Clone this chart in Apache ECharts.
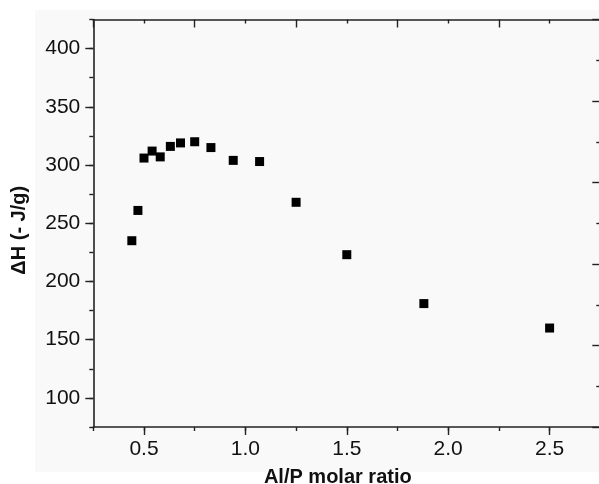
<!DOCTYPE html>
<html>
<head>
<meta charset="utf-8">
<script src="https://cdn.jsdelivr.net/npm/echarts@6/dist/echarts.min.js"></script>
<style>
  html, body { margin: 0; padding: 0; background: #ffffff; }
  #wrap { position: relative; width: 599px; height: 484px; overflow: hidden; }
  #bg { position: absolute; left: 35px; top: 10px; width: 564px; height: 462px; background: #f9f9f9; }
  #chart { position: absolute; left: 0; top: 0; width: 599px; height: 484px; }
</style>
</head>
<body>
<div id="wrap"><div id="bg"></div><div id="chart"></div></div>
<script>
// Data
const alpRatio = [0.44, 0.47, 0.50, 0.54, 0.58, 0.63, 0.68, 0.75, 0.83, 0.94, 1.07, 1.25, 1.50, 1.88, 2.50];
const deltaH   = [235, 261, 306, 312, 307, 316, 319, 320, 315, 304, 303, 268, 223, 181, 160];
const xTickLabels = ['0.5', '1.0', '1.5', '2.0', '2.5'];
const yTickLabels = ['100', '150', '200', '250', '300', '350', '400'];

const FONT = 'Liberation Sans, Arial, sans-serif';
const AX = '#222222';
const chart = echarts.init(document.getElementById('chart'), null, { renderer: 'canvas' });

// main plotting frame
const L = 93.3, W = 507, T = 19.5, H = 407.5;
const xMin = 0.25, xMax = 2.75, yMin = 75, yMax = 425;
const sx = W / (xMax - xMin), sy = H / (yMax - yMin);
// frame for labelled major ticks (0.5..2.5, 100..400)
const L2 = L + (0.5 - xMin) * sx, W2 = 2.0 * sx;
const T2 = T + (yMax - 400) * sy, H2 = 300 * sy;

const points = alpRatio.map((x, i) => [x, deltaH[i]]);

chart.setOption({
  animation: false,
  grid: [
    { left: L, top: T, width: W, height: H, containLabel: false, outerBoundsMode: 'none' },
    { left: L2, top: T2, width: W2, height: H2, containLabel: false, outerBoundsMode: 'none' }
  ],
  xAxis: [
    { // bottom minor ticks + axis line
      type: 'value', gridIndex: 0, position: 'bottom', min: xMin, max: xMax, interval: 0.25,
      axisLine: { show: true, lineStyle: { color: AX, width: 1.6 } },
      axisTick: { show: true, inside: false, length: 4, lineStyle: { color: AX, width: 1.4 } },
      axisLabel: { show: false }, splitLine: { show: false }
    },
    { // top frame
      type: 'value', gridIndex: 0, position: 'top', min: xMin, max: xMax, interval: 0.5,
      axisLine: { show: true, lineStyle: { color: AX, width: 1.6 } },
      axisTick: { show: true, inside: true, length: 8, lineStyle: { color: AX, width: 1.4 } },
      minorTick: { show: true, splitNumber: 2, length: 4, lineStyle: { color: AX, width: 1.4 } },
      axisLabel: { show: false }, splitLine: { show: false }, minorSplitLine: { show: false }
    },
    { // labelled major ticks
      type: 'value', gridIndex: 1, position: 'bottom', offset: (T + H) - (T2 + H2),
      min: 0.5, max: 2.5, interval: 0.5,
      axisLine: { show: false },
      axisTick: { show: true, inside: false, length: 8, lineStyle: { color: AX, width: 1.4 } },
      axisLabel: {
        show: true, margin: 12, color: '#111', fontSize: 21, fontFamily: FONT,
        formatter: (v) => xTickLabels[Math.round((v - 0.5) / 0.5)]
      },
      splitLine: { show: false },
      name: 'Al/P molar ratio', nameLocation: 'middle', nameGap: 40,
      nameTextStyle: { color: '#111', fontSize: 20, fontWeight: 'bold', fontFamily: FONT, padding: [0, 18, 0, 0] }
    }
  ],
  yAxis: [
    { // left minor ticks + axis line
      type: 'value', gridIndex: 0, position: 'left', min: yMin, max: yMax, interval: 25,
      axisLine: { show: true, lineStyle: { color: AX, width: 1.6 } },
      axisTick: { show: true, inside: false, length: 4, lineStyle: { color: AX, width: 1.4 } },
      axisLabel: { show: false }, splitLine: { show: false }
    },
    { // right frame ticks
      type: 'value', gridIndex: 0, position: 'right', min: 0, max: 10, interval: 2,
      axisLine: { show: false },
      axisTick: { show: true, inside: true, length: 8, lineStyle: { color: AX, width: 1.4 } },
      minorTick: { show: true, splitNumber: 2, length: 4, lineStyle: { color: AX, width: 1.4 } },
      axisLabel: { show: false }, splitLine: { show: false }, minorSplitLine: { show: false }
    },
    { // labelled major ticks
      type: 'value', gridIndex: 1, position: 'left', offset: L2 - L,
      min: 100, max: 400, interval: 50,
      axisLine: { show: false },
      axisTick: { show: true, inside: false, length: 8, lineStyle: { color: AX, width: 1.4 } },
      axisLabel: {
        show: true, margin: 13, color: '#111', fontSize: 21, fontFamily: FONT,
        formatter: (v) => yTickLabels[Math.round((v - 100) / 50)]
      },
      splitLine: { show: false },
      name: 'ΔH (- J/g)', nameLocation: 'middle', nameGap: 64, nameRotate: 90,
      nameTextStyle: { color: '#111', fontSize: 20, fontWeight: 'bold', fontFamily: FONT, padding: [0, 14, 0, 0] }
    }
  ],
  series: [{
    type: 'scatter', xAxisIndex: 0, yAxisIndex: 0,
    symbol: 'rect', symbolSize: 9,
    itemStyle: { color: '#000000', opacity: 1 },
    data: points
  }]
});
</script>
</body>
</html>
